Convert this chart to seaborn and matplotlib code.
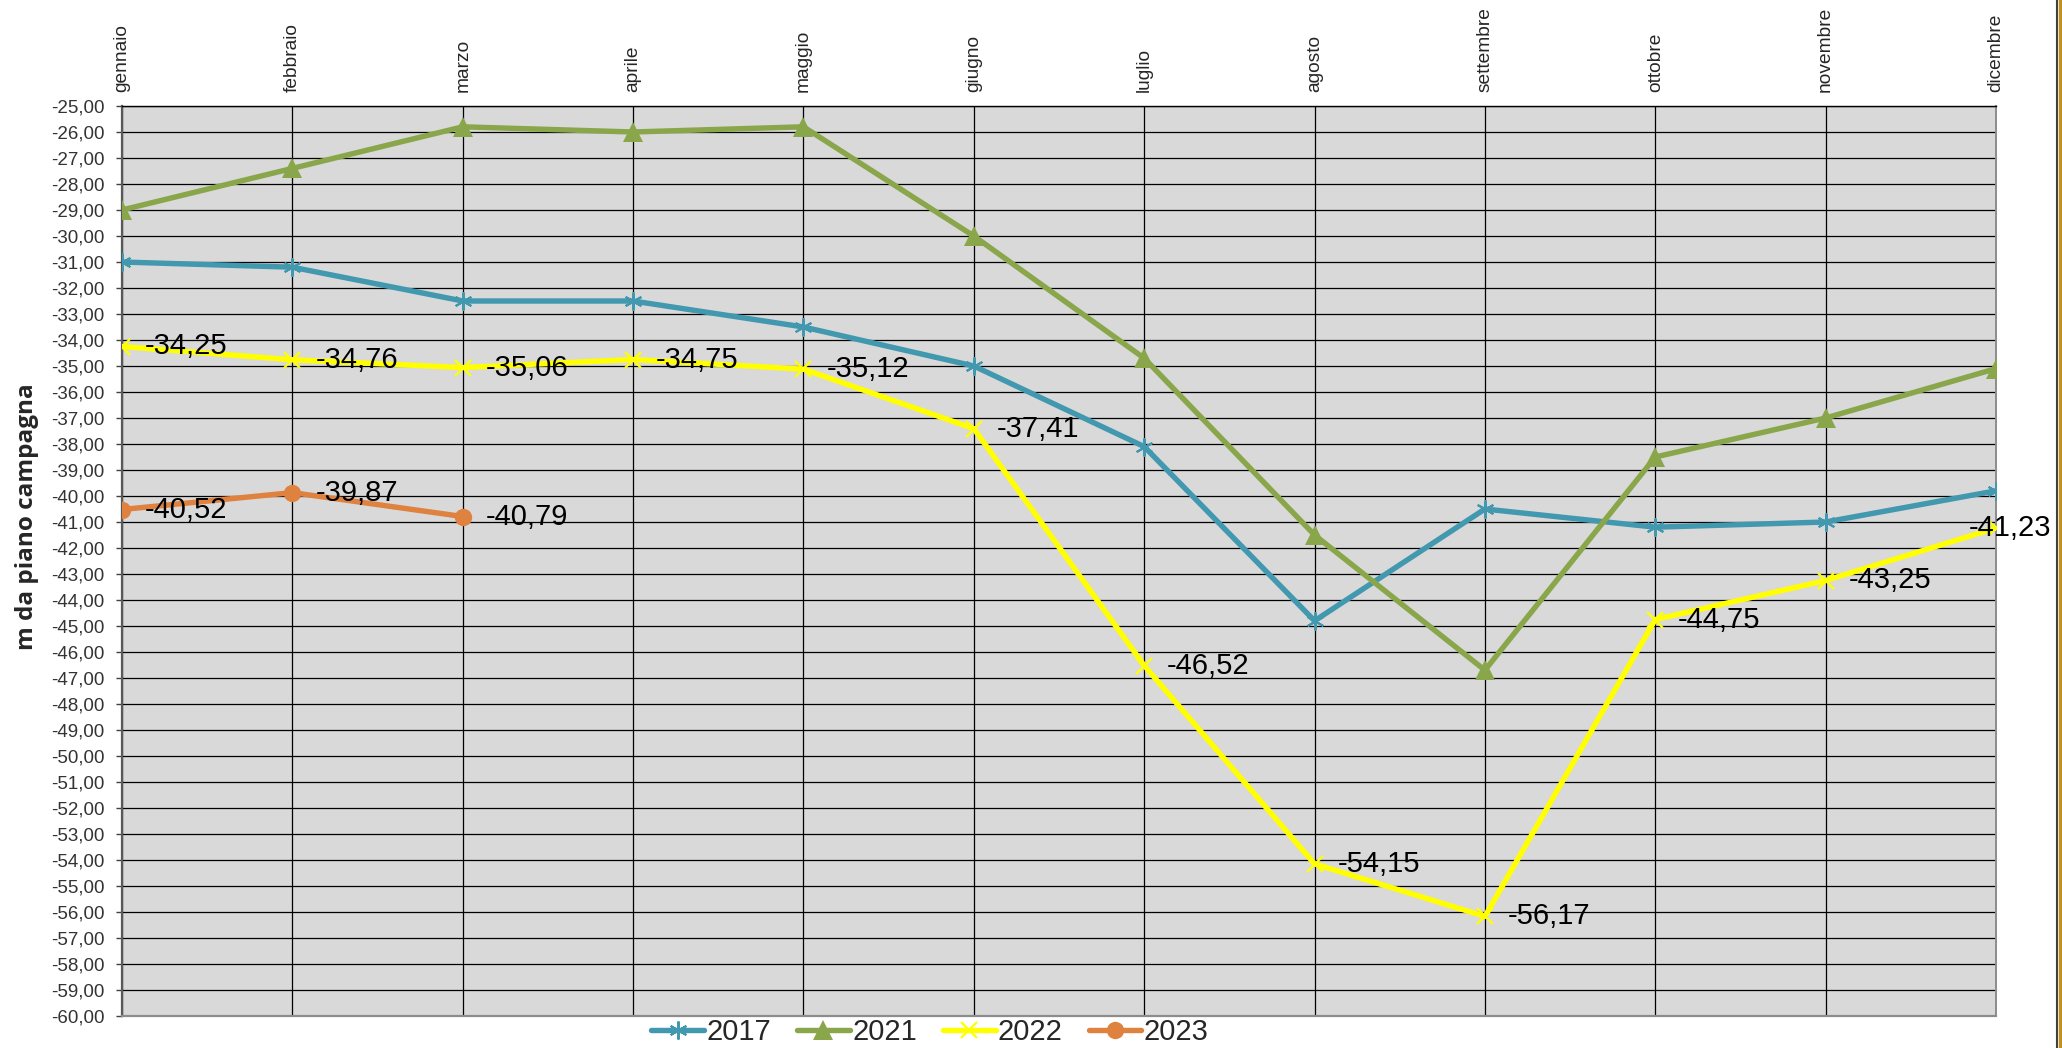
import numpy as np
import pandas as pd
import matplotlib.pyplot as plt
import matplotlib.patches as mpatches
from matplotlib.lines import Line2D
import seaborn as sns

# Monthly groundwater level (m below ground level)
months = ['gennaio', 'febbraio', 'marzo', 'aprile', 'maggio', 'giugno',
          'luglio', 'agosto', 'settembre', 'ottobre', 'novembre', 'dicembre']
vals_2017 = [-31.0, -31.2, -32.5, -32.5, -33.5, -35.0, -38.1, -44.8, -40.5, -41.2, -41.0, -39.8]
vals_2021 = [-29.0, -27.4, -25.8, -26.0, -25.8, -30.0, -34.7, -41.5, -46.7, -38.5, -37.0, -35.1]
vals_2022 = [-34.25, -34.76, -35.06, -34.75, -35.12, -37.41, -46.52, -54.15, -56.17, -44.75, -43.25, -41.23]
vals_2023 = [-40.52, -39.87, -40.79]
yticks = np.arange(-60, -24, 1)

sns.set_style("white")
plt.rcParams['font.family'] = ['Liberation Sans', 'DejaVu Sans']

fig = plt.figure(figsize=(20.62, 10.48), dpi=100)
ax = fig.add_axes([122 / 2062, 1 - 1016 / 1048, 1874 / 2062, 910 / 1048])
ax.set_facecolor('#d9d9d9')

series = [
    ('2017', vals_2017, '#4198af', dict(marker=(6, 2, 0), markersize=13, markeredgewidth=1.5)),
    ('2021', vals_2021, '#8aa64a', dict(marker='^', markersize=14, markeredgewidth=0)),
    ('2022', vals_2022, '#ffff00', dict(marker='x', markersize=12, markeredgewidth=1.6)),
    ('2023', vals_2023, '#df823f', dict(marker='o', markersize=12.5, markeredgewidth=0)),
]

for name, vals, col, mk in series:
    df = pd.DataFrame({'mese': months[:len(vals)], 'livello': vals})
    sns.lineplot(data=df, x='mese', y='livello', ax=ax, color=col, linewidth=3.9,
                 sort=False, label=name, markeredgecolor=col, markerfacecolor=col,
                 zorder=3, **mk)

# data labels for 2022 and 2023
for vals in (vals_2022, vals_2023):
    for i, v in enumerate(vals):
        off = -19.5 if i == 11 else 16.5
        ax.annotate(f"{v:.2f}".replace('.', ','), (months[i], v), xytext=(off, 0),
                    textcoords='offset points', ha='left', va='center',
                    fontsize=21, color='black', zorder=4)

ax.set_xlim(0, 11)
ax.set_ylim(-60, -25)
ax.set_yticks(yticks)
ax.set_yticklabels([f"{t:.2f}".replace('.', ',') for t in yticks], fontsize=13.5, color='#333333')
ax.xaxis.tick_top()
ax.tick_params(axis='x', length=0, pad=10, labelsize=13.8, rotation=90)
ax.tick_params(axis='y', length=4.5, width=1, color='#404040', direction='out', pad=8, left=True)
ax.set_xlabel('')

ax.grid(True, axis='both', color='black', linewidth=0.9, zorder=1)
ax.set_axisbelow(True)
ax.spines['left'].set_color('#595959')
ax.spines['left'].set_linewidth(1.6)
ax.spines['bottom'].set_color('#8c8c8c')
ax.spines['bottom'].set_linewidth(1.6)
ax.spines['right'].set_color('#8c8c8c')
ax.spines['right'].set_linewidth(1.4)
ax.spines['top'].set_color('black')
ax.spines['top'].set_linewidth(1.0)

ax.set_ylabel('m da piano campagna', fontsize=17.5, fontweight='bold',
              family=['Open Sans', 'DejaVu Sans'])
ax.yaxis.set_label_coords((39 - 122) / 1874, (1016 - 517) / 910)

handles, labels = ax.get_legend_handles_labels()
ax.get_legend().remove()
fig.legend(handles, labels, loc='center', bbox_to_anchor=(930 / 2062, 16 / 1048),
           ncol=4, frameon=False, fontsize=21, handlelength=1.8,
           handletextpad=0.08, columnspacing=0.9, borderpad=0)

# frame on the right side of the image
fig.add_artist(Line2D([2057 / 2062, 2057 / 2062], [0, 1], color='#404040', linewidth=1.5))
fig.add_artist(mpatches.Rectangle((2059 / 2062, 0), 3 / 2062, 1, color='#c09020',
                                  transform=fig.transFigure))

fig.savefig('out.png', dpi=100)
